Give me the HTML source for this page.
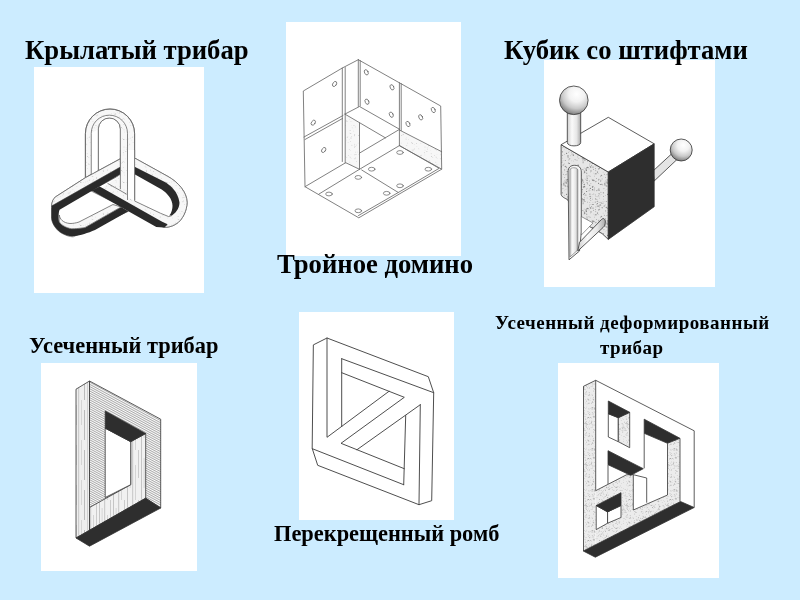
<!DOCTYPE html>
<html><head><meta charset="utf-8">
<style>
html,body{margin:0;padding:0;}
body{width:800px;height:600px;background:#ccecff;position:relative;overflow:hidden;font-family:"Liberation Serif",serif;font-weight:bold;color:#000;}
.t{position:absolute;white-space:nowrap;line-height:1;will-change:transform;}
.box{position:absolute;background:#fff;}
svg{position:absolute;left:0;top:0;}
</style></head><body>
<div class="box" style="left:34px;top:67px;width:170px;height:226px"></div>
<div class="box" style="left:286px;top:22px;width:175px;height:234px"></div>
<div class="box" style="left:544px;top:60px;width:171px;height:227px"></div>
<div class="box" style="left:41px;top:363px;width:156px;height:208px"></div>
<div class="box" style="left:299px;top:312px;width:155px;height:208px"></div>
<div class="box" style="left:558px;top:363px;width:161px;height:215px"></div>

<svg width="800" height="600" viewBox="0 0 800 600">
<defs>
 <pattern id="st2" width="41" height="41" patternUnits="userSpaceOnUse"><rect width="41" height="41" fill="#e6e6e6"/><circle cx="18.5" cy="23.0" r="0.67" fill="#777"/><circle cx="18.5" cy="35.1" r="0.38" fill="#777"/><circle cx="25.8" cy="32.5" r="0.34" fill="#bcbcbc"/><circle cx="5.8" cy="22.1" r="0.66" fill="#8a8a8a"/><circle cx="24.4" cy="16.2" r="0.48" fill="#a5a5a5"/><circle cx="25.5" cy="34.1" r="0.33" fill="#8a8a8a"/><circle cx="7.8" cy="9.9" r="0.31" fill="#777"/><circle cx="13.4" cy="24.2" r="0.38" fill="#a5a5a5"/><circle cx="26.3" cy="20.5" r="0.56" fill="#777"/><circle cx="26.8" cy="16.7" r="0.52" fill="#8a8a8a"/><circle cx="29.0" cy="12.9" r="0.39" fill="#bcbcbc"/><circle cx="1.2" cy="23.1" r="0.34" fill="#8a8a8a"/><circle cx="34.7" cy="15.8" r="0.68" fill="#8a8a8a"/><circle cx="8.8" cy="38.0" r="0.32" fill="#777"/><circle cx="40.2" cy="16.3" r="0.33" fill="#a5a5a5"/><circle cx="31.9" cy="11.1" r="0.33" fill="#bcbcbc"/><circle cx="0.6" cy="16.8" r="0.67" fill="#a5a5a5"/><circle cx="10.1" cy="4.1" r="0.32" fill="#777"/><circle cx="7.3" cy="22.9" r="0.48" fill="#a5a5a5"/><circle cx="40.4" cy="31.6" r="0.47" fill="#777"/><circle cx="4.8" cy="17.3" r="0.39" fill="#bcbcbc"/><circle cx="35.4" cy="40.0" r="0.54" fill="#8a8a8a"/><circle cx="8.6" cy="16.2" r="0.64" fill="#8a8a8a"/><circle cx="1.7" cy="6.0" r="0.48" fill="#8a8a8a"/><circle cx="31.7" cy="13.5" r="0.42" fill="#8a8a8a"/><circle cx="3.0" cy="8.6" r="0.55" fill="#8a8a8a"/><circle cx="24.7" cy="15.2" r="0.48" fill="#777"/><circle cx="34.1" cy="5.6" r="0.45" fill="#a5a5a5"/><circle cx="12.7" cy="9.4" r="0.54" fill="#a5a5a5"/><circle cx="6.5" cy="25.8" r="0.52" fill="#777"/><circle cx="36.2" cy="24.7" r="0.47" fill="#8a8a8a"/><circle cx="4.5" cy="21.0" r="0.40" fill="#777"/><circle cx="10.5" cy="33.8" r="0.54" fill="#bcbcbc"/><circle cx="21.3" cy="38.1" r="0.69" fill="#a5a5a5"/><circle cx="9.4" cy="22.9" r="0.64" fill="#8a8a8a"/><circle cx="11.5" cy="37.6" r="0.38" fill="#8a8a8a"/><circle cx="2.8" cy="16.9" r="0.40" fill="#8a8a8a"/><circle cx="7.2" cy="15.1" r="0.53" fill="#a5a5a5"/><circle cx="3.8" cy="5.7" r="0.48" fill="#bcbcbc"/><circle cx="26.9" cy="28.3" r="0.53" fill="#a5a5a5"/><circle cx="24.2" cy="37.9" r="0.49" fill="#bcbcbc"/><circle cx="28.7" cy="39.5" r="0.31" fill="#8a8a8a"/><circle cx="19.8" cy="30.0" r="0.43" fill="#8a8a8a"/><circle cx="3.1" cy="22.4" r="0.59" fill="#a5a5a5"/><circle cx="32.5" cy="37.5" r="0.44" fill="#777"/><circle cx="36.9" cy="35.7" r="0.47" fill="#8a8a8a"/><circle cx="35.4" cy="23.5" r="0.55" fill="#777"/><circle cx="15.5" cy="0.5" r="0.33" fill="#8a8a8a"/><circle cx="26.2" cy="40.7" r="0.65" fill="#bcbcbc"/><circle cx="15.9" cy="30.1" r="0.53" fill="#777"/><circle cx="19.0" cy="22.2" r="0.51" fill="#8a8a8a"/><circle cx="12.7" cy="3.6" r="0.31" fill="#8a8a8a"/><circle cx="20.4" cy="25.2" r="0.67" fill="#bcbcbc"/><circle cx="36.8" cy="15.1" r="0.36" fill="#a5a5a5"/><circle cx="21.3" cy="30.9" r="0.44" fill="#777"/><circle cx="20.4" cy="9.9" r="0.46" fill="#bcbcbc"/><circle cx="8.1" cy="17.7" r="0.62" fill="#a5a5a5"/><circle cx="36.1" cy="15.8" r="0.53" fill="#bcbcbc"/><circle cx="8.6" cy="5.5" r="0.44" fill="#8a8a8a"/><circle cx="29.2" cy="39.0" r="0.41" fill="#a5a5a5"/><circle cx="4.6" cy="19.3" r="0.67" fill="#777"/><circle cx="15.7" cy="21.3" r="0.57" fill="#777"/><circle cx="13.1" cy="34.0" r="0.41" fill="#8a8a8a"/><circle cx="27.8" cy="11.5" r="0.44" fill="#8a8a8a"/><circle cx="26.3" cy="16.6" r="0.38" fill="#bcbcbc"/><circle cx="9.7" cy="5.8" r="0.32" fill="#8a8a8a"/><circle cx="18.3" cy="25.8" r="0.56" fill="#bcbcbc"/><circle cx="39.3" cy="28.1" r="0.38" fill="#777"/><circle cx="10.5" cy="29.3" r="0.60" fill="#8a8a8a"/><circle cx="7.3" cy="11.2" r="0.44" fill="#a5a5a5"/><circle cx="16.1" cy="32.5" r="0.66" fill="#8a8a8a"/><circle cx="16.8" cy="36.6" r="0.46" fill="#777"/><circle cx="18.6" cy="25.6" r="0.66" fill="#777"/><circle cx="22.6" cy="26.8" r="0.50" fill="#bcbcbc"/><circle cx="19.0" cy="26.7" r="0.38" fill="#8a8a8a"/><circle cx="8.7" cy="36.9" r="0.69" fill="#bcbcbc"/><circle cx="22.0" cy="32.4" r="0.43" fill="#8a8a8a"/><circle cx="14.3" cy="3.4" r="0.48" fill="#777"/><circle cx="31.5" cy="20.0" r="0.31" fill="#8a8a8a"/><circle cx="17.6" cy="1.4" r="0.51" fill="#a5a5a5"/><circle cx="19.3" cy="41.0" r="0.66" fill="#777"/><circle cx="38.8" cy="20.2" r="0.68" fill="#8a8a8a"/><circle cx="31.1" cy="18.0" r="0.52" fill="#a5a5a5"/><circle cx="21.4" cy="34.6" r="0.52" fill="#bcbcbc"/><circle cx="27.5" cy="39.1" r="0.65" fill="#a5a5a5"/><circle cx="12.5" cy="5.8" r="0.52" fill="#bcbcbc"/><circle cx="23.5" cy="8.2" r="0.51" fill="#8a8a8a"/><circle cx="24.8" cy="1.1" r="0.69" fill="#777"/><circle cx="22.3" cy="40.6" r="0.35" fill="#8a8a8a"/><circle cx="28.3" cy="2.7" r="0.52" fill="#777"/><circle cx="37.8" cy="32.8" r="0.46" fill="#a5a5a5"/><circle cx="19.4" cy="5.2" r="0.47" fill="#777"/><circle cx="21.5" cy="4.5" r="0.47" fill="#8a8a8a"/><circle cx="37.9" cy="5.3" r="0.61" fill="#8a8a8a"/><circle cx="1.5" cy="6.4" r="0.30" fill="#bcbcbc"/><circle cx="13.2" cy="14.6" r="0.55" fill="#8a8a8a"/><circle cx="20.5" cy="23.9" r="0.64" fill="#bcbcbc"/><circle cx="29.4" cy="28.8" r="0.65" fill="#8a8a8a"/><circle cx="15.4" cy="16.9" r="0.51" fill="#a5a5a5"/><circle cx="22.1" cy="35.4" r="0.51" fill="#a5a5a5"/><circle cx="21.7" cy="34.9" r="0.54" fill="#a5a5a5"/><circle cx="9.5" cy="30.4" r="0.62" fill="#a5a5a5"/><circle cx="13.0" cy="12.9" r="0.67" fill="#a5a5a5"/><circle cx="31.9" cy="8.0" r="0.34" fill="#a5a5a5"/><circle cx="5.4" cy="3.6" r="0.46" fill="#777"/><circle cx="34.1" cy="17.3" r="0.62" fill="#a5a5a5"/><circle cx="8.2" cy="25.7" r="0.62" fill="#8a8a8a"/><circle cx="8.2" cy="28.0" r="0.66" fill="#bcbcbc"/><circle cx="4.7" cy="20.7" r="0.60" fill="#a5a5a5"/><circle cx="32.9" cy="19.8" r="0.31" fill="#777"/><circle cx="6.0" cy="7.6" r="0.38" fill="#a5a5a5"/><circle cx="40.6" cy="38.0" r="0.34" fill="#8a8a8a"/><circle cx="5.5" cy="27.9" r="0.33" fill="#8a8a8a"/><circle cx="13.4" cy="19.1" r="0.51" fill="#777"/><circle cx="8.6" cy="15.3" r="0.55" fill="#8a8a8a"/><circle cx="34.6" cy="7.4" r="0.48" fill="#bcbcbc"/><circle cx="16.6" cy="8.0" r="0.37" fill="#8a8a8a"/><circle cx="13.3" cy="3.5" r="0.64" fill="#777"/><circle cx="23.4" cy="7.8" r="0.53" fill="#bcbcbc"/><circle cx="33.0" cy="10.6" r="0.66" fill="#a5a5a5"/><circle cx="33.4" cy="16.6" r="0.66" fill="#bcbcbc"/><circle cx="31.5" cy="31.4" r="0.46" fill="#a5a5a5"/><circle cx="2.9" cy="14.0" r="0.49" fill="#8a8a8a"/><circle cx="36.4" cy="40.6" r="0.66" fill="#8a8a8a"/><circle cx="9.5" cy="38.7" r="0.57" fill="#bcbcbc"/><circle cx="8.9" cy="16.7" r="0.37" fill="#8a8a8a"/><circle cx="16.0" cy="41.0" r="0.56" fill="#8a8a8a"/><circle cx="31.2" cy="40.2" r="0.31" fill="#8a8a8a"/><circle cx="30.3" cy="10.5" r="0.46" fill="#8a8a8a"/><circle cx="31.2" cy="26.6" r="0.30" fill="#bcbcbc"/><circle cx="10.3" cy="37.1" r="0.52" fill="#777"/><circle cx="39.7" cy="23.3" r="0.70" fill="#777"/><circle cx="33.2" cy="3.1" r="0.54" fill="#8a8a8a"/><circle cx="15.8" cy="38.5" r="0.45" fill="#a5a5a5"/><circle cx="35.1" cy="22.2" r="0.54" fill="#777"/><circle cx="38.8" cy="17.2" r="0.51" fill="#bcbcbc"/><circle cx="15.0" cy="11.7" r="0.56" fill="#bcbcbc"/><circle cx="27.2" cy="30.7" r="0.31" fill="#a5a5a5"/><circle cx="24.0" cy="26.0" r="0.46" fill="#777"/><circle cx="2.2" cy="12.9" r="0.46" fill="#bcbcbc"/><circle cx="3.0" cy="37.1" r="0.47" fill="#777"/><circle cx="10.3" cy="31.0" r="0.32" fill="#8a8a8a"/><circle cx="38.4" cy="29.6" r="0.49" fill="#a5a5a5"/><circle cx="24.7" cy="4.7" r="0.55" fill="#777"/><circle cx="4.8" cy="35.3" r="0.44" fill="#a5a5a5"/><circle cx="5.1" cy="18.2" r="0.57" fill="#777"/><circle cx="24.6" cy="26.2" r="0.57" fill="#bcbcbc"/><circle cx="31.9" cy="21.8" r="0.70" fill="#bcbcbc"/><circle cx="30.1" cy="9.8" r="0.35" fill="#bcbcbc"/><circle cx="32.2" cy="25.6" r="0.44" fill="#bcbcbc"/><circle cx="25.0" cy="29.7" r="0.58" fill="#a5a5a5"/><circle cx="26.0" cy="30.9" r="0.38" fill="#a5a5a5"/><circle cx="20.6" cy="26.8" r="0.38" fill="#8a8a8a"/><circle cx="25.8" cy="0.4" r="0.40" fill="#8a8a8a"/><circle cx="25.6" cy="4.2" r="0.52" fill="#8a8a8a"/><circle cx="31.0" cy="37.4" r="0.36" fill="#a5a5a5"/><circle cx="25.9" cy="15.3" r="0.49" fill="#a5a5a5"/><circle cx="13.9" cy="20.3" r="0.35" fill="#8a8a8a"/><circle cx="32.9" cy="18.3" r="0.63" fill="#a5a5a5"/><circle cx="18.2" cy="30.6" r="0.46" fill="#a5a5a5"/><circle cx="15.1" cy="26.8" r="0.70" fill="#bcbcbc"/><circle cx="11.9" cy="31.1" r="0.63" fill="#a5a5a5"/><circle cx="17.5" cy="15.1" r="0.34" fill="#bcbcbc"/><circle cx="3.2" cy="3.4" r="0.53" fill="#777"/><circle cx="33.4" cy="19.0" r="0.63" fill="#8a8a8a"/><circle cx="3.1" cy="8.7" r="0.56" fill="#8a8a8a"/><circle cx="28.5" cy="20.3" r="0.61" fill="#bcbcbc"/><circle cx="11.6" cy="5.9" r="0.44" fill="#bcbcbc"/><circle cx="15.0" cy="4.8" r="0.58" fill="#bcbcbc"/><circle cx="18.0" cy="32.9" r="0.42" fill="#bcbcbc"/><circle cx="9.1" cy="39.7" r="0.59" fill="#a5a5a5"/><circle cx="3.5" cy="34.0" r="0.31" fill="#777"/><circle cx="24.0" cy="32.6" r="0.60" fill="#bcbcbc"/><circle cx="32.7" cy="22.2" r="0.63" fill="#a5a5a5"/><circle cx="7.2" cy="31.1" r="0.65" fill="#bcbcbc"/><circle cx="33.3" cy="9.1" r="0.32" fill="#a5a5a5"/><circle cx="23.3" cy="39.6" r="0.56" fill="#777"/><circle cx="2.6" cy="22.4" r="0.62" fill="#8a8a8a"/><circle cx="13.7" cy="11.2" r="0.34" fill="#bcbcbc"/><circle cx="3.5" cy="26.0" r="0.36" fill="#777"/><circle cx="10.1" cy="9.0" r="0.61" fill="#bcbcbc"/><circle cx="31.4" cy="16.2" r="0.44" fill="#bcbcbc"/><circle cx="27.6" cy="20.2" r="0.51" fill="#8a8a8a"/><circle cx="29.0" cy="37.5" r="0.46" fill="#bcbcbc"/><circle cx="35.0" cy="33.0" r="0.63" fill="#777"/><circle cx="39.3" cy="26.3" r="0.51" fill="#8a8a8a"/><circle cx="32.9" cy="17.3" r="0.47" fill="#a5a5a5"/><circle cx="10.1" cy="6.7" r="0.55" fill="#a5a5a5"/><circle cx="13.2" cy="16.0" r="0.51" fill="#bcbcbc"/><circle cx="39.8" cy="2.4" r="0.42" fill="#8a8a8a"/><circle cx="12.4" cy="6.4" r="0.67" fill="#8a8a8a"/><circle cx="30.9" cy="0.7" r="0.49" fill="#8a8a8a"/><circle cx="12.8" cy="8.1" r="0.44" fill="#a5a5a5"/><circle cx="24.6" cy="19.3" r="0.50" fill="#777"/><circle cx="7.6" cy="11.5" r="0.37" fill="#bcbcbc"/><circle cx="25.7" cy="38.6" r="0.52" fill="#bcbcbc"/><circle cx="19.9" cy="16.5" r="0.68" fill="#8a8a8a"/><circle cx="19.8" cy="9.1" r="0.32" fill="#a5a5a5"/><circle cx="32.9" cy="15.8" r="0.51" fill="#bcbcbc"/><circle cx="32.3" cy="2.4" r="0.67" fill="#8a8a8a"/><circle cx="35.8" cy="37.1" r="0.48" fill="#a5a5a5"/><circle cx="29.2" cy="24.8" r="0.36" fill="#a5a5a5"/><circle cx="31.6" cy="5.9" r="0.66" fill="#a5a5a5"/><circle cx="26.1" cy="40.7" r="0.41" fill="#8a8a8a"/><circle cx="6.2" cy="31.6" r="0.30" fill="#a5a5a5"/><circle cx="33.7" cy="3.4" r="0.41" fill="#8a8a8a"/><circle cx="36.5" cy="28.4" r="0.33" fill="#bcbcbc"/><circle cx="0.8" cy="7.7" r="0.38" fill="#8a8a8a"/><circle cx="32.0" cy="18.0" r="0.31" fill="#777"/><circle cx="21.6" cy="6.5" r="0.63" fill="#bcbcbc"/><circle cx="13.0" cy="16.6" r="0.52" fill="#777"/><circle cx="27.4" cy="2.7" r="0.33" fill="#a5a5a5"/><circle cx="4.3" cy="16.2" r="0.48" fill="#8a8a8a"/><circle cx="26.8" cy="0.5" r="0.45" fill="#777"/><circle cx="9.7" cy="23.1" r="0.48" fill="#8a8a8a"/><circle cx="35.1" cy="34.6" r="0.59" fill="#a5a5a5"/><circle cx="11.9" cy="15.4" r="0.52" fill="#bcbcbc"/><circle cx="39.1" cy="31.0" r="0.52" fill="#8a8a8a"/><circle cx="10.5" cy="8.2" r="0.59" fill="#bcbcbc"/><circle cx="12.7" cy="11.2" r="0.49" fill="#bcbcbc"/><circle cx="18.3" cy="15.7" r="0.34" fill="#8a8a8a"/><circle cx="5.4" cy="25.8" r="0.37" fill="#a5a5a5"/><circle cx="16.5" cy="34.3" r="0.54" fill="#8a8a8a"/><circle cx="4.1" cy="1.3" r="0.69" fill="#777"/><circle cx="16.7" cy="3.0" r="0.67" fill="#777"/><circle cx="38.0" cy="5.7" r="0.38" fill="#a5a5a5"/><circle cx="33.7" cy="15.8" r="0.43" fill="#777"/><circle cx="25.5" cy="29.8" r="0.55" fill="#bcbcbc"/><circle cx="40.3" cy="32.4" r="0.56" fill="#8a8a8a"/><circle cx="10.7" cy="7.7" r="0.42" fill="#777"/><circle cx="4.4" cy="15.5" r="0.50" fill="#bcbcbc"/><circle cx="33.8" cy="25.1" r="0.36" fill="#bcbcbc"/><circle cx="22.5" cy="14.5" r="0.50" fill="#a5a5a5"/><circle cx="23.5" cy="8.1" r="0.67" fill="#a5a5a5"/><circle cx="23.3" cy="1.1" r="0.56" fill="#8a8a8a"/><circle cx="5.6" cy="19.6" r="0.47" fill="#bcbcbc"/><circle cx="13.5" cy="38.1" r="0.44" fill="#777"/><circle cx="36.2" cy="18.5" r="0.59" fill="#a5a5a5"/><circle cx="37.1" cy="22.3" r="0.52" fill="#bcbcbc"/><circle cx="6.9" cy="30.6" r="0.66" fill="#bcbcbc"/><circle cx="24.7" cy="5.0" r="0.63" fill="#bcbcbc"/><circle cx="28.1" cy="14.9" r="0.60" fill="#bcbcbc"/><circle cx="34.1" cy="7.6" r="0.52" fill="#8a8a8a"/><circle cx="18.6" cy="16.5" r="0.61" fill="#a5a5a5"/><circle cx="12.6" cy="27.5" r="0.60" fill="#777"/><circle cx="25.2" cy="26.3" r="0.61" fill="#a5a5a5"/><circle cx="8.2" cy="19.2" r="0.36" fill="#777"/><circle cx="4.8" cy="16.6" r="0.43" fill="#a5a5a5"/><circle cx="10.8" cy="23.3" r="0.43" fill="#8a8a8a"/><circle cx="29.6" cy="32.3" r="0.46" fill="#777"/><circle cx="24.6" cy="19.3" r="0.46" fill="#777"/><circle cx="30.8" cy="19.9" r="0.70" fill="#777"/><circle cx="33.8" cy="4.8" r="0.35" fill="#bcbcbc"/><circle cx="21.5" cy="17.7" r="0.66" fill="#bcbcbc"/><circle cx="37.2" cy="12.1" r="0.55" fill="#777"/><circle cx="30.0" cy="24.5" r="0.60" fill="#bcbcbc"/><circle cx="36.2" cy="36.0" r="0.40" fill="#777"/><circle cx="9.9" cy="35.8" r="0.69" fill="#777"/><circle cx="28.5" cy="21.6" r="0.40" fill="#bcbcbc"/><circle cx="26.9" cy="38.5" r="0.65" fill="#bcbcbc"/><circle cx="35.5" cy="17.3" r="0.62" fill="#a5a5a5"/><circle cx="26.6" cy="17.3" r="0.35" fill="#8a8a8a"/><circle cx="4.0" cy="32.5" r="0.35" fill="#777"/><circle cx="0.0" cy="10.0" r="0.42" fill="#bcbcbc"/><circle cx="7.1" cy="18.1" r="0.48" fill="#777"/><circle cx="5.8" cy="28.4" r="0.39" fill="#bcbcbc"/><circle cx="1.3" cy="36.8" r="0.42" fill="#777"/><circle cx="5.9" cy="31.8" r="0.61" fill="#a5a5a5"/><circle cx="8.3" cy="35.2" r="0.58" fill="#8a8a8a"/><circle cx="8.0" cy="34.4" r="0.44" fill="#777"/><circle cx="0.7" cy="26.1" r="0.58" fill="#a5a5a5"/><circle cx="21.9" cy="9.7" r="0.68" fill="#8a8a8a"/><circle cx="26.7" cy="12.5" r="0.63" fill="#bcbcbc"/><circle cx="35.7" cy="29.2" r="0.35" fill="#777"/><circle cx="17.0" cy="6.9" r="0.64" fill="#8a8a8a"/><circle cx="29.1" cy="8.1" r="0.37" fill="#a5a5a5"/><circle cx="20.6" cy="12.1" r="0.41" fill="#8a8a8a"/><circle cx="24.2" cy="9.4" r="0.42" fill="#a5a5a5"/><circle cx="27.3" cy="11.4" r="0.56" fill="#8a8a8a"/><circle cx="19.0" cy="3.1" r="0.67" fill="#8a8a8a"/><circle cx="21.8" cy="1.9" r="0.54" fill="#bcbcbc"/><circle cx="22.0" cy="17.4" r="0.53" fill="#a5a5a5"/><circle cx="11.7" cy="31.0" r="0.40" fill="#bcbcbc"/><circle cx="30.1" cy="1.2" r="0.62" fill="#a5a5a5"/><circle cx="40.5" cy="1.4" r="0.48" fill="#777"/><circle cx="0.1" cy="36.6" r="0.32" fill="#8a8a8a"/><circle cx="22.8" cy="26.4" r="0.44" fill="#777"/><circle cx="32.1" cy="21.2" r="0.50" fill="#a5a5a5"/><circle cx="24.3" cy="31.6" r="0.34" fill="#777"/><circle cx="9.6" cy="18.1" r="0.61" fill="#a5a5a5"/><circle cx="10.6" cy="22.3" r="0.64" fill="#777"/><circle cx="10.7" cy="8.3" r="0.69" fill="#8a8a8a"/><circle cx="23.5" cy="35.8" r="0.37" fill="#a5a5a5"/><circle cx="24.9" cy="25.0" r="0.62" fill="#777"/><circle cx="29.6" cy="35.1" r="0.31" fill="#8a8a8a"/><circle cx="37.2" cy="23.3" r="0.52" fill="#a5a5a5"/><circle cx="25.6" cy="2.2" r="0.47" fill="#bcbcbc"/><circle cx="33.6" cy="30.3" r="0.61" fill="#777"/><circle cx="3.6" cy="33.6" r="0.37" fill="#bcbcbc"/><circle cx="10.2" cy="20.4" r="0.56" fill="#777"/><circle cx="2.5" cy="16.8" r="0.45" fill="#a5a5a5"/><circle cx="28.9" cy="39.2" r="0.35" fill="#a5a5a5"/><circle cx="5.9" cy="18.7" r="0.60" fill="#8a8a8a"/><circle cx="0.1" cy="16.8" r="0.51" fill="#8a8a8a"/><circle cx="16.1" cy="12.2" r="0.47" fill="#8a8a8a"/><circle cx="39.8" cy="27.9" r="0.59" fill="#a5a5a5"/><circle cx="12.1" cy="4.9" r="0.64" fill="#777"/><circle cx="18.9" cy="38.2" r="0.45" fill="#bcbcbc"/><circle cx="38.8" cy="37.8" r="0.39" fill="#a5a5a5"/><circle cx="16.5" cy="26.6" r="0.32" fill="#bcbcbc"/><circle cx="23.3" cy="37.4" r="0.65" fill="#a5a5a5"/><circle cx="19.0" cy="16.1" r="0.64" fill="#777"/><circle cx="15.5" cy="2.0" r="0.47" fill="#a5a5a5"/><circle cx="7.5" cy="22.5" r="0.37" fill="#a5a5a5"/><circle cx="16.4" cy="24.3" r="0.60" fill="#777"/><circle cx="18.3" cy="40.7" r="0.57" fill="#777"/><circle cx="8.4" cy="15.7" r="0.33" fill="#bcbcbc"/><circle cx="14.9" cy="11.3" r="0.31" fill="#a5a5a5"/><circle cx="30.4" cy="21.0" r="0.53" fill="#a5a5a5"/><circle cx="11.0" cy="14.8" r="0.36" fill="#bcbcbc"/><circle cx="5.6" cy="9.9" r="0.64" fill="#8a8a8a"/><circle cx="0.8" cy="13.2" r="0.45" fill="#8a8a8a"/><circle cx="35.0" cy="15.6" r="0.40" fill="#8a8a8a"/><circle cx="12.4" cy="24.9" r="0.50" fill="#a5a5a5"/><circle cx="6.2" cy="24.4" r="0.31" fill="#bcbcbc"/><circle cx="16.8" cy="19.6" r="0.58" fill="#bcbcbc"/><circle cx="12.9" cy="18.5" r="0.45" fill="#a5a5a5"/><circle cx="34.2" cy="21.9" r="0.48" fill="#a5a5a5"/><circle cx="15.8" cy="35.5" r="0.39" fill="#bcbcbc"/><circle cx="15.2" cy="25.1" r="0.36" fill="#8a8a8a"/></pattern><pattern id="st" width="43" height="43" patternUnits="userSpaceOnUse"><rect width="43" height="43" fill="#f7f7f7"/><circle cx="7.1" cy="29.7" r="0.41" fill="#d6d6d6"/><circle cx="36.3" cy="42.6" r="0.37" fill="#cacaca"/><circle cx="21.7" cy="10.2" r="0.25" fill="#b0b0b0"/><circle cx="40.1" cy="18.4" r="0.29" fill="#cacaca"/><circle cx="39.6" cy="29.8" r="0.36" fill="#d6d6d6"/><circle cx="26.5" cy="1.5" r="0.33" fill="#d6d6d6"/><circle cx="29.8" cy="27.9" r="0.48" fill="#bdbdbd"/><circle cx="6.7" cy="35.2" r="0.28" fill="#bdbdbd"/><circle cx="19.5" cy="23.7" r="0.34" fill="#d6d6d6"/><circle cx="6.5" cy="28.6" r="0.37" fill="#cacaca"/><circle cx="3.2" cy="8.5" r="0.42" fill="#bdbdbd"/><circle cx="5.3" cy="20.5" r="0.46" fill="#cacaca"/><circle cx="14.7" cy="6.3" r="0.38" fill="#b0b0b0"/><circle cx="15.7" cy="19.4" r="0.35" fill="#d6d6d6"/><circle cx="16.6" cy="1.2" r="0.27" fill="#d6d6d6"/><circle cx="0.1" cy="3.0" r="0.40" fill="#cacaca"/><circle cx="24.6" cy="13.7" r="0.49" fill="#bdbdbd"/><circle cx="7.8" cy="7.3" r="0.34" fill="#b0b0b0"/><circle cx="14.9" cy="25.7" r="0.33" fill="#bdbdbd"/><circle cx="7.3" cy="39.7" r="0.29" fill="#d6d6d6"/><circle cx="16.1" cy="29.4" r="0.42" fill="#cacaca"/><circle cx="17.5" cy="42.5" r="0.49" fill="#bdbdbd"/><circle cx="38.0" cy="21.1" r="0.34" fill="#cacaca"/><circle cx="40.3" cy="10.6" r="0.39" fill="#d6d6d6"/><circle cx="34.6" cy="33.3" r="0.37" fill="#b0b0b0"/><circle cx="2.2" cy="11.1" r="0.32" fill="#d6d6d6"/><circle cx="10.7" cy="17.0" r="0.47" fill="#cacaca"/><circle cx="42.3" cy="32.1" r="0.37" fill="#b0b0b0"/><circle cx="6.0" cy="28.0" r="0.48" fill="#d6d6d6"/><circle cx="1.2" cy="9.1" r="0.46" fill="#cacaca"/><circle cx="37.9" cy="25.9" r="0.36" fill="#d6d6d6"/><circle cx="13.2" cy="23.0" r="0.32" fill="#bdbdbd"/><circle cx="16.4" cy="5.4" r="0.43" fill="#b0b0b0"/><circle cx="25.5" cy="27.7" r="0.46" fill="#d6d6d6"/><circle cx="11.1" cy="17.4" r="0.49" fill="#cacaca"/><circle cx="5.7" cy="4.1" r="0.27" fill="#bdbdbd"/><circle cx="27.6" cy="33.8" r="0.27" fill="#bdbdbd"/><circle cx="28.2" cy="5.4" r="0.38" fill="#b0b0b0"/><circle cx="17.0" cy="38.2" r="0.41" fill="#cacaca"/><circle cx="7.9" cy="16.2" r="0.43" fill="#bdbdbd"/><circle cx="26.0" cy="21.7" r="0.44" fill="#bdbdbd"/><circle cx="34.0" cy="0.3" r="0.37" fill="#bdbdbd"/><circle cx="17.1" cy="24.4" r="0.46" fill="#cacaca"/><circle cx="10.9" cy="30.0" r="0.33" fill="#bdbdbd"/><circle cx="10.5" cy="6.7" r="0.43" fill="#b0b0b0"/><circle cx="35.2" cy="34.5" r="0.37" fill="#bdbdbd"/><circle cx="23.5" cy="2.6" r="0.40" fill="#b0b0b0"/><circle cx="41.6" cy="13.3" r="0.42" fill="#cacaca"/><circle cx="2.7" cy="35.0" r="0.49" fill="#b0b0b0"/><circle cx="2.8" cy="28.3" r="0.36" fill="#bdbdbd"/><circle cx="28.0" cy="26.9" r="0.45" fill="#d6d6d6"/><circle cx="21.7" cy="40.7" r="0.42" fill="#d6d6d6"/><circle cx="20.2" cy="22.1" r="0.47" fill="#bdbdbd"/><circle cx="9.7" cy="2.1" r="0.36" fill="#cacaca"/><circle cx="11.9" cy="25.3" r="0.35" fill="#d6d6d6"/><circle cx="19.6" cy="10.2" r="0.35" fill="#d6d6d6"/><circle cx="9.8" cy="39.3" r="0.41" fill="#bdbdbd"/><circle cx="20.6" cy="21.2" r="0.43" fill="#cacaca"/><circle cx="33.5" cy="27.0" r="0.44" fill="#b0b0b0"/><circle cx="10.5" cy="39.4" r="0.35" fill="#d6d6d6"/><circle cx="35.5" cy="41.4" r="0.50" fill="#bdbdbd"/><circle cx="7.0" cy="8.7" r="0.47" fill="#cacaca"/><circle cx="3.9" cy="7.5" r="0.38" fill="#d6d6d6"/><circle cx="31.9" cy="19.9" r="0.28" fill="#cacaca"/><circle cx="30.3" cy="8.9" r="0.33" fill="#cacaca"/><circle cx="11.2" cy="40.9" r="0.33" fill="#b0b0b0"/><circle cx="40.6" cy="41.6" r="0.47" fill="#cacaca"/><circle cx="10.3" cy="29.6" r="0.43" fill="#cacaca"/><circle cx="40.5" cy="20.1" r="0.36" fill="#b0b0b0"/><circle cx="28.8" cy="28.7" r="0.41" fill="#bdbdbd"/><circle cx="8.1" cy="41.3" r="0.26" fill="#b0b0b0"/><circle cx="0.8" cy="21.6" r="0.26" fill="#d6d6d6"/><circle cx="30.1" cy="10.3" r="0.25" fill="#cacaca"/><circle cx="4.1" cy="13.3" r="0.36" fill="#bdbdbd"/><circle cx="15.9" cy="5.8" r="0.45" fill="#d6d6d6"/><circle cx="22.8" cy="2.1" r="0.30" fill="#d6d6d6"/><circle cx="37.9" cy="10.5" r="0.39" fill="#d6d6d6"/><circle cx="38.0" cy="0.8" r="0.40" fill="#bdbdbd"/><circle cx="18.7" cy="35.8" r="0.50" fill="#cacaca"/><circle cx="6.5" cy="21.4" r="0.38" fill="#d6d6d6"/><circle cx="20.3" cy="34.4" r="0.33" fill="#b0b0b0"/><circle cx="6.6" cy="12.4" r="0.41" fill="#bdbdbd"/><circle cx="38.3" cy="3.1" r="0.27" fill="#bdbdbd"/><circle cx="29.2" cy="8.2" r="0.32" fill="#bdbdbd"/><circle cx="7.0" cy="25.2" r="0.32" fill="#d6d6d6"/><circle cx="6.8" cy="4.5" r="0.48" fill="#b0b0b0"/><circle cx="17.6" cy="29.7" r="0.43" fill="#d6d6d6"/><circle cx="3.4" cy="35.6" r="0.30" fill="#bdbdbd"/><circle cx="31.3" cy="26.1" r="0.41" fill="#cacaca"/><circle cx="0.9" cy="15.8" r="0.37" fill="#d6d6d6"/><circle cx="34.7" cy="39.0" r="0.42" fill="#cacaca"/><circle cx="29.3" cy="27.9" r="0.40" fill="#bdbdbd"/><circle cx="41.7" cy="16.8" r="0.49" fill="#b0b0b0"/><circle cx="0.5" cy="15.1" r="0.40" fill="#bdbdbd"/><circle cx="32.5" cy="27.8" r="0.29" fill="#d6d6d6"/><circle cx="8.9" cy="42.9" r="0.39" fill="#d6d6d6"/><circle cx="31.8" cy="38.0" r="0.34" fill="#bdbdbd"/><circle cx="10.3" cy="25.8" r="0.34" fill="#b0b0b0"/><circle cx="24.6" cy="42.7" r="0.48" fill="#bdbdbd"/><circle cx="42.3" cy="31.8" r="0.44" fill="#cacaca"/><circle cx="39.9" cy="22.5" r="0.47" fill="#b0b0b0"/><circle cx="5.3" cy="10.3" r="0.36" fill="#d6d6d6"/><circle cx="33.1" cy="32.3" r="0.41" fill="#b0b0b0"/><circle cx="7.9" cy="35.6" r="0.31" fill="#d6d6d6"/><circle cx="11.4" cy="23.1" r="0.36" fill="#bdbdbd"/><circle cx="33.9" cy="14.5" r="0.36" fill="#b0b0b0"/><circle cx="31.7" cy="31.4" r="0.50" fill="#d6d6d6"/><circle cx="6.1" cy="1.4" r="0.44" fill="#b0b0b0"/><circle cx="24.8" cy="42.9" r="0.30" fill="#cacaca"/><circle cx="37.4" cy="23.8" r="0.44" fill="#bdbdbd"/><circle cx="1.2" cy="39.4" r="0.28" fill="#b0b0b0"/><circle cx="19.8" cy="16.7" r="0.41" fill="#bdbdbd"/><circle cx="37.2" cy="32.3" r="0.34" fill="#b0b0b0"/><circle cx="31.6" cy="19.7" r="0.28" fill="#cacaca"/><circle cx="25.6" cy="14.3" r="0.46" fill="#b0b0b0"/><circle cx="10.7" cy="5.6" r="0.44" fill="#b0b0b0"/><circle cx="4.5" cy="26.5" r="0.41" fill="#cacaca"/><circle cx="5.8" cy="33.2" r="0.37" fill="#bdbdbd"/><circle cx="29.5" cy="14.4" r="0.41" fill="#b0b0b0"/><circle cx="0.4" cy="36.2" r="0.32" fill="#b0b0b0"/><circle cx="29.9" cy="17.8" r="0.28" fill="#bdbdbd"/><circle cx="42.8" cy="10.0" r="0.43" fill="#d6d6d6"/><circle cx="21.5" cy="41.4" r="0.34" fill="#bdbdbd"/><circle cx="27.3" cy="15.7" r="0.34" fill="#d6d6d6"/><circle cx="27.3" cy="19.6" r="0.38" fill="#cacaca"/><circle cx="18.9" cy="10.0" r="0.46" fill="#d6d6d6"/><circle cx="36.3" cy="33.3" r="0.48" fill="#bdbdbd"/><circle cx="14.8" cy="6.6" r="0.25" fill="#b0b0b0"/><circle cx="14.1" cy="14.1" r="0.30" fill="#bdbdbd"/><circle cx="19.6" cy="8.7" r="0.25" fill="#cacaca"/><circle cx="36.4" cy="9.5" r="0.28" fill="#bdbdbd"/><circle cx="27.0" cy="5.3" r="0.28" fill="#cacaca"/><circle cx="23.2" cy="3.7" r="0.31" fill="#bdbdbd"/><circle cx="10.5" cy="18.6" r="0.45" fill="#bdbdbd"/><circle cx="17.2" cy="41.3" r="0.45" fill="#b0b0b0"/><circle cx="38.0" cy="18.0" r="0.39" fill="#bdbdbd"/><circle cx="38.3" cy="33.2" r="0.39" fill="#cacaca"/><circle cx="1.6" cy="27.5" r="0.44" fill="#b0b0b0"/><circle cx="33.4" cy="30.9" r="0.38" fill="#cacaca"/><circle cx="12.4" cy="16.0" r="0.37" fill="#b0b0b0"/><circle cx="16.7" cy="34.5" r="0.26" fill="#b0b0b0"/><circle cx="25.1" cy="20.9" r="0.46" fill="#cacaca"/><circle cx="32.4" cy="6.4" r="0.33" fill="#bdbdbd"/><circle cx="11.6" cy="29.1" r="0.48" fill="#bdbdbd"/><circle cx="16.1" cy="37.2" r="0.36" fill="#bdbdbd"/><circle cx="27.0" cy="20.4" r="0.39" fill="#b0b0b0"/><circle cx="31.2" cy="2.0" r="0.41" fill="#b0b0b0"/><circle cx="18.7" cy="33.1" r="0.25" fill="#cacaca"/><circle cx="7.0" cy="9.4" r="0.29" fill="#b0b0b0"/><circle cx="0.6" cy="33.3" r="0.46" fill="#d6d6d6"/><circle cx="10.7" cy="15.2" r="0.46" fill="#cacaca"/><circle cx="12.0" cy="25.6" r="0.46" fill="#b0b0b0"/><circle cx="20.6" cy="14.1" r="0.47" fill="#cacaca"/><circle cx="12.4" cy="32.3" r="0.42" fill="#bdbdbd"/><circle cx="37.8" cy="10.6" r="0.50" fill="#b0b0b0"/><circle cx="24.1" cy="35.3" r="0.45" fill="#d6d6d6"/><circle cx="1.2" cy="24.8" r="0.48" fill="#cacaca"/><circle cx="34.2" cy="26.3" r="0.44" fill="#bdbdbd"/><circle cx="37.5" cy="38.4" r="0.46" fill="#cacaca"/><circle cx="21.5" cy="30.2" r="0.38" fill="#cacaca"/></pattern><pattern id="st3" width="41" height="41" patternUnits="userSpaceOnUse"><rect width="41" height="41" fill="#ececec"/><circle cx="25.5" cy="30.4" r="0.45" fill="#8f8f8f"/><circle cx="34.5" cy="31.8" r="0.31" fill="#8f8f8f"/><circle cx="36.9" cy="4.6" r="0.37" fill="#a8a8a8"/><circle cx="15.6" cy="4.2" r="0.31" fill="#a8a8a8"/><circle cx="16.7" cy="7.5" r="0.47" fill="#999"/><circle cx="6.5" cy="32.7" r="0.28" fill="#999"/><circle cx="5.2" cy="0.1" r="0.47" fill="#a8a8a8"/><circle cx="31.7" cy="39.4" r="0.29" fill="#a8a8a8"/><circle cx="11.9" cy="39.4" r="0.38" fill="#a8a8a8"/><circle cx="7.4" cy="39.7" r="0.30" fill="#999"/><circle cx="12.3" cy="14.8" r="0.29" fill="#a8a8a8"/><circle cx="10.8" cy="13.6" r="0.45" fill="#8f8f8f"/><circle cx="24.4" cy="29.0" r="0.27" fill="#b8b8b8"/><circle cx="33.6" cy="19.7" r="0.33" fill="#999"/><circle cx="19.4" cy="7.2" r="0.31" fill="#8f8f8f"/><circle cx="38.9" cy="14.7" r="0.35" fill="#999"/><circle cx="15.0" cy="23.7" r="0.25" fill="#8f8f8f"/><circle cx="29.0" cy="25.6" r="0.49" fill="#8f8f8f"/><circle cx="31.0" cy="38.1" r="0.49" fill="#b8b8b8"/><circle cx="21.0" cy="36.6" r="0.31" fill="#999"/><circle cx="4.4" cy="30.7" r="0.45" fill="#b8b8b8"/><circle cx="1.5" cy="38.8" r="0.27" fill="#b8b8b8"/><circle cx="21.0" cy="14.9" r="0.29" fill="#b8b8b8"/><circle cx="37.9" cy="22.4" r="0.33" fill="#b8b8b8"/><circle cx="12.6" cy="32.7" r="0.41" fill="#b8b8b8"/><circle cx="40.9" cy="6.6" r="0.26" fill="#999"/><circle cx="1.3" cy="30.4" r="0.34" fill="#b8b8b8"/><circle cx="18.7" cy="17.3" r="0.26" fill="#8f8f8f"/><circle cx="32.9" cy="13.7" r="0.30" fill="#a8a8a8"/><circle cx="25.8" cy="32.3" r="0.28" fill="#999"/><circle cx="15.3" cy="2.4" r="0.36" fill="#a8a8a8"/><circle cx="18.6" cy="41.0" r="0.46" fill="#999"/><circle cx="39.4" cy="28.2" r="0.33" fill="#b8b8b8"/><circle cx="11.9" cy="16.6" r="0.29" fill="#999"/><circle cx="33.7" cy="21.8" r="0.29" fill="#999"/><circle cx="35.6" cy="7.4" r="0.37" fill="#b8b8b8"/><circle cx="2.6" cy="32.6" r="0.34" fill="#8f8f8f"/><circle cx="31.1" cy="14.9" r="0.43" fill="#b8b8b8"/><circle cx="34.2" cy="10.9" r="0.50" fill="#b8b8b8"/><circle cx="39.2" cy="13.9" r="0.29" fill="#8f8f8f"/><circle cx="19.4" cy="31.7" r="0.33" fill="#b8b8b8"/><circle cx="19.0" cy="33.5" r="0.41" fill="#b8b8b8"/><circle cx="14.3" cy="26.4" r="0.43" fill="#999"/><circle cx="14.4" cy="34.6" r="0.47" fill="#999"/><circle cx="40.0" cy="39.2" r="0.38" fill="#a8a8a8"/><circle cx="8.1" cy="14.8" r="0.46" fill="#b8b8b8"/><circle cx="28.3" cy="29.5" r="0.43" fill="#a8a8a8"/><circle cx="25.3" cy="38.4" r="0.38" fill="#999"/><circle cx="12.4" cy="22.7" r="0.47" fill="#b8b8b8"/><circle cx="29.5" cy="1.1" r="0.29" fill="#999"/><circle cx="25.6" cy="7.4" r="0.44" fill="#a8a8a8"/><circle cx="25.9" cy="1.7" r="0.37" fill="#a8a8a8"/><circle cx="6.8" cy="36.6" r="0.28" fill="#a8a8a8"/><circle cx="19.8" cy="22.5" r="0.35" fill="#b8b8b8"/><circle cx="15.6" cy="25.1" r="0.40" fill="#a8a8a8"/><circle cx="29.4" cy="15.3" r="0.34" fill="#b8b8b8"/><circle cx="35.1" cy="35.5" r="0.42" fill="#b8b8b8"/><circle cx="39.5" cy="22.5" r="0.33" fill="#b8b8b8"/><circle cx="22.4" cy="13.9" r="0.40" fill="#b8b8b8"/><circle cx="33.6" cy="17.2" r="0.45" fill="#b8b8b8"/><circle cx="19.2" cy="6.4" r="0.35" fill="#999"/><circle cx="39.2" cy="39.7" r="0.40" fill="#b8b8b8"/><circle cx="33.7" cy="27.1" r="0.35" fill="#b8b8b8"/><circle cx="23.2" cy="25.2" r="0.29" fill="#999"/><circle cx="17.6" cy="40.0" r="0.37" fill="#999"/><circle cx="39.9" cy="15.6" r="0.49" fill="#a8a8a8"/><circle cx="24.4" cy="10.7" r="0.50" fill="#999"/><circle cx="10.3" cy="0.8" r="0.49" fill="#b8b8b8"/><circle cx="20.2" cy="11.7" r="0.37" fill="#8f8f8f"/><circle cx="27.1" cy="39.4" r="0.31" fill="#8f8f8f"/><circle cx="32.0" cy="33.9" r="0.25" fill="#b8b8b8"/><circle cx="10.0" cy="19.4" r="0.26" fill="#999"/><circle cx="11.0" cy="6.3" r="0.50" fill="#b8b8b8"/><circle cx="20.2" cy="40.7" r="0.38" fill="#8f8f8f"/><circle cx="0.7" cy="5.2" r="0.32" fill="#b8b8b8"/><circle cx="25.2" cy="30.0" r="0.26" fill="#b8b8b8"/><circle cx="14.8" cy="30.5" r="0.40" fill="#8f8f8f"/><circle cx="0.1" cy="22.7" r="0.42" fill="#8f8f8f"/><circle cx="36.4" cy="22.4" r="0.25" fill="#999"/><circle cx="24.4" cy="28.2" r="0.49" fill="#999"/><circle cx="35.2" cy="34.5" r="0.37" fill="#a8a8a8"/><circle cx="36.9" cy="19.1" r="0.44" fill="#b8b8b8"/><circle cx="34.3" cy="28.5" r="0.36" fill="#b8b8b8"/><circle cx="26.6" cy="19.4" r="0.33" fill="#a8a8a8"/><circle cx="19.6" cy="22.5" r="0.37" fill="#b8b8b8"/><circle cx="22.1" cy="17.4" r="0.39" fill="#8f8f8f"/><circle cx="2.8" cy="9.4" r="0.45" fill="#8f8f8f"/><circle cx="27.2" cy="1.0" r="0.43" fill="#8f8f8f"/><circle cx="40.9" cy="28.8" r="0.26" fill="#8f8f8f"/><circle cx="9.0" cy="26.5" r="0.49" fill="#a8a8a8"/><circle cx="40.8" cy="28.9" r="0.36" fill="#a8a8a8"/><circle cx="25.0" cy="17.0" r="0.29" fill="#a8a8a8"/><circle cx="1.8" cy="4.4" r="0.34" fill="#8f8f8f"/><circle cx="11.5" cy="23.4" r="0.28" fill="#999"/><circle cx="36.0" cy="5.5" r="0.36" fill="#b8b8b8"/><circle cx="28.1" cy="20.1" r="0.34" fill="#b8b8b8"/><circle cx="37.5" cy="5.7" r="0.32" fill="#b8b8b8"/><circle cx="37.3" cy="22.8" r="0.41" fill="#b8b8b8"/><circle cx="2.6" cy="9.7" r="0.46" fill="#b8b8b8"/><circle cx="21.2" cy="5.5" r="0.31" fill="#b8b8b8"/><circle cx="18.6" cy="15.9" r="0.28" fill="#8f8f8f"/><circle cx="26.9" cy="3.5" r="0.42" fill="#8f8f8f"/><circle cx="35.4" cy="20.8" r="0.36" fill="#999"/><circle cx="36.0" cy="19.7" r="0.33" fill="#8f8f8f"/><circle cx="22.2" cy="15.8" r="0.46" fill="#999"/><circle cx="27.9" cy="9.1" r="0.28" fill="#999"/><circle cx="33.6" cy="5.7" r="0.41" fill="#b8b8b8"/><circle cx="34.3" cy="11.9" r="0.48" fill="#b8b8b8"/><circle cx="32.6" cy="15.5" r="0.43" fill="#b8b8b8"/><circle cx="26.6" cy="33.0" r="0.36" fill="#b8b8b8"/><circle cx="21.2" cy="24.3" r="0.39" fill="#a8a8a8"/><circle cx="16.2" cy="4.0" r="0.26" fill="#a8a8a8"/><circle cx="8.0" cy="20.1" r="0.48" fill="#b8b8b8"/><circle cx="0.0" cy="19.3" r="0.47" fill="#999"/><circle cx="13.3" cy="18.9" r="0.30" fill="#a8a8a8"/><circle cx="2.9" cy="35.6" r="0.47" fill="#999"/><circle cx="6.2" cy="10.4" r="0.32" fill="#a8a8a8"/><circle cx="30.8" cy="27.6" r="0.26" fill="#8f8f8f"/><circle cx="14.1" cy="30.8" r="0.33" fill="#8f8f8f"/><circle cx="28.2" cy="27.6" r="0.37" fill="#a8a8a8"/><circle cx="4.8" cy="27.4" r="0.32" fill="#a8a8a8"/><circle cx="29.9" cy="6.7" r="0.30" fill="#8f8f8f"/><circle cx="23.6" cy="26.9" r="0.40" fill="#b8b8b8"/><circle cx="27.9" cy="7.6" r="0.34" fill="#8f8f8f"/><circle cx="30.0" cy="29.4" r="0.29" fill="#a8a8a8"/><circle cx="7.2" cy="8.6" r="0.26" fill="#999"/><circle cx="29.8" cy="11.1" r="0.37" fill="#999"/><circle cx="31.9" cy="16.8" r="0.26" fill="#b8b8b8"/><circle cx="38.5" cy="29.4" r="0.31" fill="#999"/><circle cx="3.8" cy="19.3" r="0.42" fill="#8f8f8f"/><circle cx="20.4" cy="32.0" r="0.26" fill="#999"/><circle cx="18.3" cy="26.3" r="0.47" fill="#a8a8a8"/><circle cx="7.4" cy="20.9" r="0.35" fill="#a8a8a8"/><circle cx="3.5" cy="12.9" r="0.28" fill="#a8a8a8"/><circle cx="24.5" cy="35.1" r="0.30" fill="#8f8f8f"/><circle cx="18.1" cy="14.7" r="0.36" fill="#999"/><circle cx="21.4" cy="5.4" r="0.25" fill="#b8b8b8"/><circle cx="28.2" cy="36.6" r="0.50" fill="#8f8f8f"/><circle cx="5.7" cy="19.8" r="0.44" fill="#b8b8b8"/><circle cx="33.6" cy="12.8" r="0.28" fill="#8f8f8f"/><circle cx="19.3" cy="28.6" r="0.45" fill="#a8a8a8"/><circle cx="11.3" cy="20.2" r="0.31" fill="#a8a8a8"/><circle cx="32.6" cy="36.2" r="0.47" fill="#8f8f8f"/><circle cx="17.2" cy="12.9" r="0.44" fill="#8f8f8f"/><circle cx="36.7" cy="26.8" r="0.44" fill="#8f8f8f"/><circle cx="18.1" cy="33.5" r="0.41" fill="#8f8f8f"/><circle cx="29.8" cy="28.7" r="0.32" fill="#999"/><circle cx="23.0" cy="13.2" r="0.33" fill="#a8a8a8"/><circle cx="10.8" cy="27.7" r="0.32" fill="#8f8f8f"/><circle cx="22.2" cy="30.3" r="0.26" fill="#8f8f8f"/><circle cx="2.1" cy="5.3" r="0.34" fill="#b8b8b8"/><circle cx="38.9" cy="25.1" r="0.31" fill="#999"/><circle cx="5.1" cy="8.2" r="0.34" fill="#a8a8a8"/><circle cx="24.0" cy="33.9" r="0.43" fill="#8f8f8f"/><circle cx="11.0" cy="24.8" r="0.41" fill="#a8a8a8"/><circle cx="18.3" cy="38.5" r="0.45" fill="#8f8f8f"/><circle cx="13.7" cy="18.3" r="0.31" fill="#999"/><circle cx="7.0" cy="2.0" r="0.42" fill="#a8a8a8"/><circle cx="21.8" cy="39.8" r="0.40" fill="#8f8f8f"/><circle cx="5.2" cy="34.9" r="0.42" fill="#a8a8a8"/><circle cx="40.1" cy="1.3" r="0.39" fill="#999"/><circle cx="28.9" cy="14.5" r="0.37" fill="#a8a8a8"/><circle cx="11.4" cy="8.2" r="0.39" fill="#b8b8b8"/><circle cx="31.3" cy="32.2" r="0.34" fill="#a8a8a8"/><circle cx="33.4" cy="27.2" r="0.48" fill="#8f8f8f"/><circle cx="25.3" cy="16.4" r="0.29" fill="#a8a8a8"/><circle cx="20.1" cy="1.5" r="0.29" fill="#8f8f8f"/><circle cx="30.9" cy="11.5" r="0.48" fill="#b8b8b8"/><circle cx="19.6" cy="19.3" r="0.38" fill="#8f8f8f"/><circle cx="32.8" cy="15.4" r="0.25" fill="#a8a8a8"/><circle cx="33.3" cy="0.9" r="0.42" fill="#b8b8b8"/><circle cx="21.1" cy="20.5" r="0.39" fill="#999"/><circle cx="18.4" cy="32.3" r="0.39" fill="#8f8f8f"/><circle cx="22.0" cy="32.7" r="0.34" fill="#8f8f8f"/><circle cx="27.9" cy="21.4" r="0.32" fill="#8f8f8f"/><circle cx="1.1" cy="31.7" r="0.40" fill="#999"/><circle cx="12.6" cy="38.1" r="0.32" fill="#a8a8a8"/><circle cx="3.0" cy="30.9" r="0.42" fill="#b8b8b8"/><circle cx="36.8" cy="28.2" r="0.46" fill="#a8a8a8"/><circle cx="19.8" cy="3.8" r="0.28" fill="#b8b8b8"/><circle cx="40.0" cy="22.3" r="0.35" fill="#8f8f8f"/><circle cx="27.5" cy="15.5" r="0.44" fill="#a8a8a8"/><circle cx="37.3" cy="25.2" r="0.35" fill="#8f8f8f"/><circle cx="34.6" cy="36.5" r="0.42" fill="#b8b8b8"/><circle cx="10.2" cy="4.1" r="0.32" fill="#b8b8b8"/><circle cx="32.7" cy="3.2" r="0.49" fill="#8f8f8f"/><circle cx="25.9" cy="31.4" r="0.31" fill="#8f8f8f"/><circle cx="23.4" cy="25.7" r="0.41" fill="#999"/><circle cx="17.1" cy="17.4" r="0.38" fill="#a8a8a8"/><circle cx="12.4" cy="11.5" r="0.40" fill="#b8b8b8"/><circle cx="7.7" cy="1.2" r="0.28" fill="#a8a8a8"/><circle cx="17.8" cy="13.4" r="0.28" fill="#b8b8b8"/><circle cx="29.9" cy="2.5" r="0.37" fill="#8f8f8f"/><circle cx="13.1" cy="34.9" r="0.41" fill="#a8a8a8"/><circle cx="36.6" cy="25.2" r="0.45" fill="#8f8f8f"/><circle cx="0.1" cy="27.6" r="0.28" fill="#b8b8b8"/><circle cx="6.2" cy="25.2" r="0.28" fill="#999"/><circle cx="30.2" cy="33.5" r="0.45" fill="#8f8f8f"/><circle cx="15.0" cy="33.4" r="0.30" fill="#b8b8b8"/><circle cx="15.4" cy="18.8" r="0.42" fill="#8f8f8f"/><circle cx="10.1" cy="38.6" r="0.37" fill="#8f8f8f"/><circle cx="4.8" cy="24.5" r="0.34" fill="#8f8f8f"/><circle cx="20.3" cy="39.5" r="0.49" fill="#8f8f8f"/><circle cx="20.1" cy="38.4" r="0.43" fill="#8f8f8f"/><circle cx="4.8" cy="19.6" r="0.34" fill="#a8a8a8"/><circle cx="37.7" cy="15.7" r="0.32" fill="#999"/><circle cx="26.3" cy="31.4" r="0.27" fill="#8f8f8f"/><circle cx="12.1" cy="13.8" r="0.46" fill="#999"/><circle cx="2.1" cy="17.3" r="0.31" fill="#8f8f8f"/><circle cx="6.0" cy="39.7" r="0.39" fill="#999"/><circle cx="40.4" cy="22.2" r="0.35" fill="#a8a8a8"/><circle cx="3.8" cy="14.6" r="0.45" fill="#8f8f8f"/><circle cx="33.5" cy="5.8" r="0.45" fill="#8f8f8f"/><circle cx="10.3" cy="18.8" r="0.35" fill="#8f8f8f"/><circle cx="2.2" cy="9.0" r="0.49" fill="#999"/><circle cx="0.5" cy="21.3" r="0.49" fill="#999"/><circle cx="20.8" cy="2.2" r="0.35" fill="#999"/><circle cx="35.3" cy="38.5" r="0.42" fill="#8f8f8f"/><circle cx="8.8" cy="17.3" r="0.43" fill="#999"/><circle cx="37.5" cy="15.5" r="0.50" fill="#a8a8a8"/><circle cx="36.6" cy="6.1" r="0.45" fill="#999"/><circle cx="34.2" cy="3.1" r="0.34" fill="#999"/><circle cx="17.3" cy="11.1" r="0.37" fill="#b8b8b8"/><circle cx="0.1" cy="26.0" r="0.44" fill="#999"/><circle cx="3.2" cy="28.2" r="0.26" fill="#999"/><circle cx="36.3" cy="8.1" r="0.25" fill="#999"/><circle cx="39.4" cy="24.6" r="0.28" fill="#a8a8a8"/><circle cx="3.2" cy="15.0" r="0.40" fill="#8f8f8f"/><circle cx="7.6" cy="17.6" r="0.32" fill="#b8b8b8"/><circle cx="13.7" cy="8.8" r="0.32" fill="#8f8f8f"/><circle cx="11.6" cy="4.3" r="0.35" fill="#b8b8b8"/><circle cx="15.1" cy="19.6" r="0.40" fill="#a8a8a8"/><circle cx="39.6" cy="5.8" r="0.25" fill="#8f8f8f"/><circle cx="30.0" cy="5.5" r="0.37" fill="#8f8f8f"/><circle cx="0.3" cy="31.6" r="0.35" fill="#a8a8a8"/><circle cx="32.5" cy="2.3" r="0.38" fill="#8f8f8f"/><circle cx="28.4" cy="36.2" r="0.44" fill="#b8b8b8"/><circle cx="18.0" cy="4.2" r="0.28" fill="#b8b8b8"/><circle cx="23.3" cy="11.3" r="0.40" fill="#999"/><circle cx="40.5" cy="12.4" r="0.29" fill="#8f8f8f"/><circle cx="26.4" cy="2.3" r="0.30" fill="#999"/><circle cx="4.0" cy="21.0" r="0.45" fill="#b8b8b8"/><circle cx="34.0" cy="5.7" r="0.34" fill="#999"/><circle cx="0.2" cy="23.2" r="0.39" fill="#8f8f8f"/><circle cx="2.5" cy="3.6" r="0.34" fill="#a8a8a8"/><circle cx="15.3" cy="14.0" r="0.45" fill="#999"/><circle cx="32.1" cy="30.4" r="0.32" fill="#8f8f8f"/><circle cx="25.7" cy="15.9" r="0.41" fill="#a8a8a8"/><circle cx="28.8" cy="24.3" r="0.47" fill="#a8a8a8"/><circle cx="24.3" cy="23.2" r="0.48" fill="#b8b8b8"/><circle cx="23.0" cy="0.4" r="0.26" fill="#999"/><circle cx="27.6" cy="26.6" r="0.26" fill="#999"/><circle cx="4.8" cy="29.6" r="0.40" fill="#a8a8a8"/><circle cx="22.0" cy="28.5" r="0.43" fill="#8f8f8f"/><circle cx="1.7" cy="29.3" r="0.33" fill="#8f8f8f"/><circle cx="39.2" cy="27.9" r="0.32" fill="#999"/><circle cx="30.9" cy="10.6" r="0.32" fill="#8f8f8f"/><circle cx="36.0" cy="13.2" r="0.41" fill="#999"/><circle cx="19.1" cy="6.4" r="0.30" fill="#b8b8b8"/><circle cx="12.9" cy="25.1" r="0.36" fill="#a8a8a8"/><circle cx="14.5" cy="3.2" r="0.36" fill="#999"/><circle cx="7.2" cy="5.7" r="0.37" fill="#999"/><circle cx="38.3" cy="14.1" r="0.25" fill="#999"/><circle cx="11.0" cy="20.2" r="0.38" fill="#a8a8a8"/><circle cx="22.8" cy="27.2" r="0.35" fill="#b8b8b8"/><circle cx="34.3" cy="12.0" r="0.28" fill="#b8b8b8"/><circle cx="17.4" cy="34.7" r="0.38" fill="#999"/><circle cx="25.8" cy="26.3" r="0.49" fill="#8f8f8f"/><circle cx="28.3" cy="4.5" r="0.27" fill="#b8b8b8"/><circle cx="34.6" cy="23.9" r="0.26" fill="#999"/><circle cx="7.1" cy="13.7" r="0.44" fill="#8f8f8f"/><circle cx="16.7" cy="13.5" r="0.27" fill="#8f8f8f"/><circle cx="12.0" cy="13.8" r="0.50" fill="#999"/><circle cx="2.6" cy="12.4" r="0.30" fill="#8f8f8f"/><circle cx="32.4" cy="36.8" r="0.38" fill="#8f8f8f"/><circle cx="18.9" cy="2.9" r="0.36" fill="#b8b8b8"/><circle cx="26.7" cy="27.9" r="0.33" fill="#b8b8b8"/><circle cx="38.8" cy="19.1" r="0.28" fill="#a8a8a8"/><circle cx="4.7" cy="22.0" r="0.27" fill="#999"/><circle cx="17.9" cy="11.2" r="0.39" fill="#999"/><circle cx="1.6" cy="36.2" r="0.50" fill="#a8a8a8"/><circle cx="15.7" cy="26.0" r="0.48" fill="#b8b8b8"/><circle cx="36.1" cy="29.2" r="0.27" fill="#b8b8b8"/><circle cx="2.2" cy="38.5" r="0.37" fill="#999"/><circle cx="22.7" cy="32.7" r="0.41" fill="#b8b8b8"/><circle cx="11.6" cy="30.5" r="0.31" fill="#999"/><circle cx="16.6" cy="29.1" r="0.27" fill="#a8a8a8"/><circle cx="18.7" cy="39.0" r="0.44" fill="#999"/><circle cx="40.9" cy="5.5" r="0.29" fill="#8f8f8f"/><circle cx="29.5" cy="10.5" r="0.37" fill="#a8a8a8"/><circle cx="32.9" cy="19.8" r="0.32" fill="#b8b8b8"/><circle cx="25.7" cy="28.6" r="0.39" fill="#8f8f8f"/><circle cx="8.5" cy="1.0" r="0.39" fill="#999"/><circle cx="26.2" cy="20.0" r="0.47" fill="#b8b8b8"/><circle cx="24.8" cy="2.4" r="0.32" fill="#999"/><circle cx="12.1" cy="15.2" r="0.44" fill="#b8b8b8"/><circle cx="26.9" cy="31.0" r="0.43" fill="#8f8f8f"/><circle cx="20.0" cy="6.5" r="0.49" fill="#999"/><circle cx="27.1" cy="17.3" r="0.46" fill="#999"/><circle cx="13.9" cy="30.0" r="0.38" fill="#8f8f8f"/><circle cx="6.5" cy="20.3" r="0.25" fill="#999"/><circle cx="31.6" cy="34.3" r="0.26" fill="#8f8f8f"/><circle cx="19.6" cy="4.9" r="0.30" fill="#a8a8a8"/><circle cx="35.0" cy="9.8" r="0.46" fill="#8f8f8f"/><circle cx="15.8" cy="26.4" r="0.31" fill="#b8b8b8"/><circle cx="37.7" cy="8.4" r="0.31" fill="#8f8f8f"/><circle cx="30.5" cy="20.7" r="0.36" fill="#b8b8b8"/><circle cx="9.1" cy="3.8" r="0.39" fill="#999"/><circle cx="32.2" cy="29.8" r="0.47" fill="#8f8f8f"/><circle cx="6.0" cy="2.3" r="0.25" fill="#a8a8a8"/><circle cx="4.4" cy="18.8" r="0.36" fill="#999"/><circle cx="19.5" cy="21.4" r="0.26" fill="#999"/><circle cx="34.2" cy="25.2" r="0.43" fill="#a8a8a8"/><circle cx="0.8" cy="36.3" r="0.50" fill="#a8a8a8"/><circle cx="39.7" cy="28.6" r="0.30" fill="#b8b8b8"/><circle cx="36.4" cy="7.1" r="0.35" fill="#8f8f8f"/><circle cx="17.6" cy="12.3" r="0.43" fill="#999"/><circle cx="16.0" cy="31.6" r="0.28" fill="#999"/><circle cx="28.3" cy="8.9" r="0.35" fill="#999"/><circle cx="6.0" cy="39.4" r="0.32" fill="#a8a8a8"/><circle cx="28.4" cy="35.3" r="0.42" fill="#8f8f8f"/><circle cx="35.7" cy="37.6" r="0.45" fill="#999"/><circle cx="33.8" cy="36.9" r="0.39" fill="#999"/><circle cx="30.0" cy="8.3" r="0.40" fill="#8f8f8f"/><circle cx="7.9" cy="21.9" r="0.46" fill="#b8b8b8"/><circle cx="26.0" cy="29.1" r="0.36" fill="#a8a8a8"/><circle cx="25.7" cy="7.5" r="0.39" fill="#999"/><circle cx="38.9" cy="30.5" r="0.43" fill="#999"/><circle cx="39.3" cy="34.2" r="0.33" fill="#8f8f8f"/><circle cx="20.0" cy="15.1" r="0.50" fill="#b8b8b8"/><circle cx="31.0" cy="19.6" r="0.45" fill="#999"/><circle cx="36.3" cy="13.5" r="0.49" fill="#999"/><circle cx="7.0" cy="17.5" r="0.36" fill="#8f8f8f"/><circle cx="9.4" cy="12.1" r="0.45" fill="#8f8f8f"/><circle cx="31.8" cy="19.8" r="0.27" fill="#b8b8b8"/><circle cx="3.9" cy="29.9" r="0.35" fill="#b8b8b8"/><circle cx="14.4" cy="31.5" r="0.26" fill="#8f8f8f"/><circle cx="38.0" cy="36.5" r="0.44" fill="#8f8f8f"/><circle cx="1.7" cy="21.0" r="0.37" fill="#999"/><circle cx="12.5" cy="17.4" r="0.40" fill="#8f8f8f"/><circle cx="39.8" cy="21.2" r="0.47" fill="#8f8f8f"/><circle cx="24.2" cy="3.0" r="0.34" fill="#999"/><circle cx="3.9" cy="14.2" r="0.49" fill="#8f8f8f"/><circle cx="40.5" cy="35.7" r="0.34" fill="#8f8f8f"/><circle cx="18.9" cy="4.0" r="0.47" fill="#b8b8b8"/><circle cx="1.5" cy="39.6" r="0.43" fill="#8f8f8f"/><circle cx="24.4" cy="36.5" r="0.33" fill="#999"/><circle cx="33.7" cy="20.6" r="0.34" fill="#8f8f8f"/><circle cx="34.7" cy="23.4" r="0.36" fill="#a8a8a8"/><circle cx="25.2" cy="16.6" r="0.36" fill="#a8a8a8"/><circle cx="2.6" cy="13.2" r="0.26" fill="#b8b8b8"/><circle cx="17.3" cy="38.5" r="0.28" fill="#8f8f8f"/><circle cx="18.3" cy="30.1" r="0.26" fill="#8f8f8f"/><circle cx="24.2" cy="28.7" r="0.26" fill="#8f8f8f"/><circle cx="12.1" cy="12.0" r="0.36" fill="#a8a8a8"/><circle cx="1.4" cy="18.7" r="0.29" fill="#b8b8b8"/><circle cx="21.6" cy="40.9" r="0.39" fill="#999"/><circle cx="34.5" cy="25.4" r="0.46" fill="#a8a8a8"/><circle cx="15.0" cy="40.9" r="0.46" fill="#8f8f8f"/><circle cx="4.6" cy="36.3" r="0.34" fill="#b8b8b8"/><circle cx="38.7" cy="38.5" r="0.35" fill="#999"/><circle cx="40.9" cy="5.3" r="0.44" fill="#999"/><circle cx="14.6" cy="7.4" r="0.50" fill="#8f8f8f"/><circle cx="38.2" cy="16.5" r="0.31" fill="#a8a8a8"/><circle cx="17.9" cy="25.2" r="0.36" fill="#b8b8b8"/><circle cx="15.5" cy="8.0" r="0.30" fill="#999"/><circle cx="10.0" cy="20.5" r="0.40" fill="#8f8f8f"/><circle cx="36.9" cy="31.9" r="0.33" fill="#b8b8b8"/><circle cx="13.8" cy="14.3" r="0.46" fill="#8f8f8f"/><circle cx="1.9" cy="20.5" r="0.32" fill="#a8a8a8"/><circle cx="1.9" cy="9.2" r="0.50" fill="#b8b8b8"/><circle cx="9.1" cy="18.7" r="0.26" fill="#8f8f8f"/><circle cx="31.1" cy="4.5" r="0.42" fill="#8f8f8f"/><circle cx="10.2" cy="2.7" r="0.28" fill="#b8b8b8"/><circle cx="32.1" cy="10.5" r="0.29" fill="#b8b8b8"/><circle cx="12.6" cy="16.0" r="0.31" fill="#999"/><circle cx="34.4" cy="31.5" r="0.37" fill="#a8a8a8"/><circle cx="34.9" cy="29.9" r="0.43" fill="#a8a8a8"/><circle cx="15.7" cy="23.5" r="0.32" fill="#8f8f8f"/><circle cx="28.2" cy="0.1" r="0.29" fill="#8f8f8f"/><circle cx="37.9" cy="13.1" r="0.31" fill="#999"/><circle cx="0.3" cy="28.6" r="0.25" fill="#b8b8b8"/><circle cx="21.4" cy="14.5" r="0.32" fill="#a8a8a8"/><circle cx="35.1" cy="32.4" r="0.32" fill="#a8a8a8"/><circle cx="28.1" cy="24.3" r="0.30" fill="#8f8f8f"/><circle cx="23.1" cy="3.7" r="0.31" fill="#999"/><circle cx="27.2" cy="24.0" r="0.32" fill="#a8a8a8"/><circle cx="8.5" cy="37.8" r="0.28" fill="#999"/><circle cx="9.1" cy="18.0" r="0.33" fill="#b8b8b8"/><circle cx="3.2" cy="7.7" r="0.37" fill="#8f8f8f"/><circle cx="27.7" cy="26.2" r="0.39" fill="#8f8f8f"/><circle cx="12.4" cy="23.0" r="0.40" fill="#b8b8b8"/><circle cx="15.5" cy="34.4" r="0.46" fill="#b8b8b8"/><circle cx="5.5" cy="18.3" r="0.39" fill="#a8a8a8"/><circle cx="30.4" cy="25.0" r="0.46" fill="#999"/><circle cx="7.4" cy="22.4" r="0.30" fill="#a8a8a8"/><circle cx="11.4" cy="33.9" r="0.32" fill="#b8b8b8"/><circle cx="12.8" cy="4.6" r="0.31" fill="#a8a8a8"/><circle cx="38.7" cy="33.1" r="0.34" fill="#b8b8b8"/><circle cx="2.8" cy="16.2" r="0.49" fill="#999"/><circle cx="27.3" cy="29.6" r="0.37" fill="#8f8f8f"/><circle cx="31.6" cy="39.2" r="0.40" fill="#8f8f8f"/><circle cx="8.3" cy="31.6" r="0.31" fill="#a8a8a8"/><circle cx="15.1" cy="25.3" r="0.40" fill="#a8a8a8"/><circle cx="37.9" cy="29.0" r="0.43" fill="#a8a8a8"/><circle cx="23.2" cy="32.2" r="0.42" fill="#b8b8b8"/><circle cx="30.9" cy="9.3" r="0.37" fill="#a8a8a8"/><circle cx="31.4" cy="19.2" r="0.48" fill="#999"/><circle cx="25.9" cy="9.8" r="0.31" fill="#a8a8a8"/><circle cx="39.2" cy="3.5" r="0.44" fill="#999"/><circle cx="22.1" cy="32.4" r="0.46" fill="#a8a8a8"/><circle cx="0.6" cy="28.6" r="0.42" fill="#a8a8a8"/><circle cx="39.3" cy="32.9" r="0.46" fill="#8f8f8f"/><circle cx="34.5" cy="18.1" r="0.30" fill="#8f8f8f"/><circle cx="31.0" cy="13.7" r="0.44" fill="#b8b8b8"/><circle cx="29.3" cy="39.8" r="0.37" fill="#999"/><circle cx="34.8" cy="36.6" r="0.33" fill="#b8b8b8"/><circle cx="0.4" cy="40.6" r="0.30" fill="#b8b8b8"/><circle cx="11.4" cy="12.2" r="0.45" fill="#a8a8a8"/><circle cx="18.2" cy="2.7" r="0.37" fill="#999"/><circle cx="9.6" cy="17.0" r="0.30" fill="#999"/><circle cx="0.0" cy="4.9" r="0.29" fill="#b8b8b8"/><circle cx="11.8" cy="9.6" r="0.48" fill="#a8a8a8"/><circle cx="40.7" cy="4.3" r="0.39" fill="#b8b8b8"/><circle cx="4.8" cy="21.5" r="0.32" fill="#a8a8a8"/><circle cx="27.4" cy="35.5" r="0.28" fill="#b8b8b8"/><circle cx="31.4" cy="22.3" r="0.47" fill="#b8b8b8"/><circle cx="13.4" cy="7.6" r="0.36" fill="#999"/><circle cx="15.7" cy="4.7" r="0.46" fill="#999"/><circle cx="30.2" cy="33.3" r="0.25" fill="#b8b8b8"/><circle cx="23.0" cy="5.7" r="0.43" fill="#a8a8a8"/><circle cx="14.9" cy="39.5" r="0.47" fill="#b8b8b8"/><circle cx="3.4" cy="17.5" r="0.38" fill="#999"/><circle cx="19.7" cy="30.3" r="0.50" fill="#8f8f8f"/><circle cx="12.6" cy="31.9" r="0.31" fill="#999"/><circle cx="4.5" cy="23.9" r="0.41" fill="#999"/><circle cx="21.5" cy="27.6" r="0.42" fill="#b8b8b8"/><circle cx="8.3" cy="29.1" r="0.26" fill="#999"/><circle cx="16.9" cy="39.4" r="0.37" fill="#a8a8a8"/><circle cx="36.8" cy="37.2" r="0.31" fill="#a8a8a8"/><circle cx="34.9" cy="19.8" r="0.27" fill="#8f8f8f"/><circle cx="25.2" cy="39.6" r="0.39" fill="#999"/><circle cx="1.9" cy="36.4" r="0.48" fill="#a8a8a8"/><circle cx="2.1" cy="17.5" r="0.46" fill="#a8a8a8"/><circle cx="8.6" cy="9.6" r="0.27" fill="#999"/><circle cx="7.4" cy="18.3" r="0.47" fill="#999"/><circle cx="23.5" cy="35.4" r="0.36" fill="#a8a8a8"/><circle cx="35.5" cy="19.8" r="0.47" fill="#b8b8b8"/><circle cx="3.0" cy="18.9" r="0.42" fill="#b8b8b8"/><circle cx="34.3" cy="38.3" r="0.43" fill="#8f8f8f"/><circle cx="21.1" cy="27.0" r="0.34" fill="#b8b8b8"/><circle cx="27.9" cy="1.6" r="0.34" fill="#b8b8b8"/><circle cx="32.2" cy="34.8" r="0.35" fill="#999"/><circle cx="15.3" cy="10.9" r="0.35" fill="#a8a8a8"/><circle cx="24.5" cy="30.8" r="0.48" fill="#8f8f8f"/><circle cx="14.0" cy="1.8" r="0.44" fill="#999"/><circle cx="30.9" cy="25.2" r="0.37" fill="#8f8f8f"/><circle cx="17.5" cy="8.0" r="0.30" fill="#8f8f8f"/><circle cx="23.1" cy="15.5" r="0.33" fill="#a8a8a8"/><circle cx="14.3" cy="16.9" r="0.32" fill="#b8b8b8"/><circle cx="20.2" cy="7.0" r="0.47" fill="#8f8f8f"/><circle cx="31.1" cy="13.5" r="0.27" fill="#999"/><circle cx="14.7" cy="12.2" r="0.33" fill="#b8b8b8"/><circle cx="20.6" cy="20.0" r="0.42" fill="#999"/><circle cx="8.1" cy="16.1" r="0.50" fill="#b8b8b8"/><circle cx="38.2" cy="25.5" r="0.40" fill="#a8a8a8"/><circle cx="4.3" cy="31.0" r="0.38" fill="#b8b8b8"/><circle cx="28.7" cy="31.6" r="0.46" fill="#b8b8b8"/><circle cx="38.7" cy="28.2" r="0.47" fill="#8f8f8f"/><circle cx="28.7" cy="9.0" r="0.50" fill="#a8a8a8"/><circle cx="28.3" cy="40.3" r="0.33" fill="#a8a8a8"/><circle cx="25.0" cy="29.1" r="0.28" fill="#999"/><circle cx="11.8" cy="25.3" r="0.43" fill="#b8b8b8"/><circle cx="29.4" cy="12.9" r="0.26" fill="#b8b8b8"/><circle cx="27.0" cy="19.3" r="0.39" fill="#a8a8a8"/><circle cx="10.7" cy="3.1" r="0.28" fill="#8f8f8f"/><circle cx="24.5" cy="40.1" r="0.41" fill="#b8b8b8"/><circle cx="40.5" cy="20.4" r="0.36" fill="#999"/><circle cx="24.7" cy="13.2" r="0.41" fill="#b8b8b8"/><circle cx="5.0" cy="39.2" r="0.38" fill="#a8a8a8"/></pattern>
 <pattern id="hh" width="4" height="1.95" patternUnits="userSpaceOnUse" patternTransform="rotate(28.5)"><rect width="4" height="1.95" fill="#fdfdfd"/><rect y="0" width="4" height="0.6" fill="#777"/></pattern>
 <pattern id="hv" width="13" height="40" patternUnits="userSpaceOnUse"><rect width="13" height="40" fill="#efefef"/><rect x="0.5" width="0.6" height="40" fill="#aaa"/><rect x="3.5" width="0.5" height="25" fill="#bbb"/><rect x="6" y="10" width="0.6" height="30" fill="#999"/><rect x="9.5" width="0.5" height="40" fill="#b0b0b0"/><rect x="11.5" y="5" width="0.5" height="20" fill="#c0c0c0"/></pattern>
 <pattern id="hv2" width="14" height="50" patternUnits="userSpaceOnUse"><rect width="14" height="50" fill="#f1f1f1"/><rect x="1" width="0.5" height="50" fill="#999"/><rect x="3.8" y="8" width="0.5" height="30" fill="#bbb"/><rect x="6.5" width="0.6" height="50" fill="#aaa"/><rect x="9.5" y="15" width="0.5" height="35" fill="#b8b8b8"/><rect x="12" width="0.5" height="28" fill="#a5a5a5"/></pattern>
</defs>

<!-- ===== Figure 1: winged tribar ===== -->
<g stroke="#666" stroke-width="0.8" stroke-linejoin="round" fill="#fff">
 <!-- left loop silhouette -->
 <path d="M121,158.3 L85.4,177.7 L55.8,196.7 C53,198.5 51.5,203 51.5,207.5 V218.3 C52,224 57,231 62.3,233.5 C66,235.5 70,236.8 73.2,236.8 L128.3,211.3 L120.4,160 Z"/>
 <!-- right loop silhouette -->
 <path d="M134.6,158 L156.3,170 L168,176.5 C178,182 187,192 187.1,202.5 C187,210 183,220 175.8,224.2 C172,226.5 168,227.4 163.8,227.4 L90.8,190.8 L120,175 L134.6,166 Z"/>
 <!-- top arch band -->
 <path fill="url(#st)" d="M85.4,177.7 V133.6 A24.6,24.6 0 0 1 134.6,133.6 V200 L120.4,192 V129 A11,11 0 0 0 98.3,129 V170 Z"/>
 <path fill="#fff" d="M91.25,174.6 V133.3 A18.1,18.1 0 0 1 127.5,133.3 V200 L120.4,196 V129 A11,11 0 0 0 98.3,129 V170 Z" stroke="none"/>
 <path fill="url(#st)" stroke="none" d="M91.25,133.3 A18.1,18.1 0 0 1 120.4,120 L116,119 A11,11 0 0 0 98.3,129 Z"/>
 <path fill="url(#st)" stroke="none" d="M120.4,129 A11,11 0 0 0 116,119 L120.4,120 A18.1,18.1 0 0 1 127.5,133.3 V194.2 L120.4,189.2 Z"/>
 <path fill="none" d="M91.25,174.6 V133.3 A18.1,18.1 0 0 1 127.5,133.3 V200 M98.3,170 V129 A11,11 0 0 1 120.4,129 V189.2 M85.4,177.7 V133.6 A24.6,24.6 0 0 1 134.6,133.6 V200.7"/>
 <!-- left loop top stipple band -->
 <path fill="url(#st)" d="M120.4,158.8 L85.4,177.7 L55.8,196.7 C53,198.5 51.8,202 51.6,206 L120.4,167 Z"/>
 <!-- left loop black C band -->
 <path fill="#2a2a2a" stroke="none" d="M120.4,167 L51.6,206 C51.5,208 51.5,210 51.5,212 V218.3 C52,224 57,231 62.3,233.5 C66,235.5 70,236.5 75,236 C80,235.5 88,233 95,230 L128.3,211.3 L121,207 L85,227.5 C80,228.5 73,229 70,228.5 C64,227 60,224 59,221 C58.3,218 58.6,211.5 59.6,209.7 L120.4,174.2 Z"/>
 <!-- left loop bottom stipple band -->
 <path fill="url(#st)" d="M59.3,215 C59.8,219 63,223 70,223.5 C73,223.5 76,223 79,222 L113,204.5 L121,207 L85,227.5 C80,228.5 73,229 70,228.5 C64,227 60,224 59,221 Z"/>
 <!-- right loop outer stipple band -->
 <path fill="url(#st)" stroke="none" d="M134.6,158 L156.3,170 L168,176.5 C178,182 187,192 187.1,202.5 C187,210 183,220 175.8,224.2 C172,226.5 168,227.4 163.8,227.4 L161,224 L100,190 L120,175 L134.6,201 L160.6,213.3 L168.7,216.6 L172,215.5 C177,212 179.5,207 179.5,202.5 C178,191 170,185 164.9,181.9 L134.6,166.7 Z"/>
 <path fill="none" d="M134.6,158 L156.3,170 L168,176.5 C178,182 187,192 187.1,202.5 C187,210 183,220 175.8,224.2 C172,226.5 168,227.4 163.8,227.4"/>
 <!-- right loop black inner band -->
 <path fill="#2a2a2a" stroke="none" d="M134.6,166.7 L164.9,181.9 C170,185 178,191 179.5,202.5 C179.5,207 177,212 172,215.5 L169.3,215.5 C171,214 172.5,210 172.5,205.8 C172.5,199 167,193 161.7,189.5 L134.6,174.2 Z"/>
 <path fill="none" d="M134.6,201 L160.6,213.3 L168.7,216.6 L172,215.5"/>
 <!-- white strip of right leg -->
 <path fill="#fff" stroke="none" d="M127.5,150 H134.6 V200.7 L127.5,197 Z"/>
 <path fill="url(#st)" stroke="none" d="M120.4,150 H127.5 V194.2 L120.4,189.2 Z"/>
 <path fill="none" d="M120.4,150 V189.2 M127.5,150 V200 M134.6,150 V200.7"/>
 <path fill="none" d="M107.5,183.3 L126.7,194.2"/>
 <!-- diagonal 2 black band -->
 <path fill="#2a2a2a" stroke="none" d="M91.5,190.5 L99.7,186.5 L161.7,221.5 L167.6,224.2 C166,226 165,227.4 163.8,227.4 L156.3,226.9 Z"/>
</g>

<!-- ===== Figure 2: triple domino ===== -->
<g stroke="#6a6a6a" stroke-width="0.85" fill="none" stroke-linecap="round" stroke-linejoin="round">
 <path fill="url(#st)" stroke="none" d="M344.9,114.1 L359.5,122.8 V169.3 L345.7,162.7 Z"/>
 <path fill="url(#st)" stroke="none" d="M399.4,130 L441.7,151.7 V169.2 L399.4,145.6 Z"/>
 <path d="M358.3,59.7 L440.7,106 L441.7,169.2 L358.8,217.8 L305,186.7 L303.3,91 L342.3,68 L358.3,59.7"/>
 <path d="M342.3,68 V161.5 M345.2,67.5 V163 M358.3,59.7 V106.5 M360.2,60.5 V106"/>
 <path d="M304,137 L343,115.5 M305,139.5 L342.5,118.5"/>
 <path d="M344.9,114.1 L359.5,106.5 L399.6,129.3 M344.9,114.1 L385.5,137.9 M359.5,122.8 V169.3 M359.5,153.1 L399.6,129.3"/>
 <path d="M399.4,82.6 V145.6 M401.2,83.6 V130.5 M399.4,130 L441.7,151.7 M399.4,145.6 L441.7,169.2"/>
 <path d="M305,186.7 L345.7,162.7 L359.5,169.3 L399.4,145.6 M319,194 L359.5,169.3"/>
 <path d="M399.4,145.6 L439.2,168.3 L398.3,192.5 L361.7,170 M398.3,192.5 L358.5,215.5"/>
 <g fill="#fff" stroke="#666" stroke-width="0.75">
  <ellipse cx="334.6" cy="84" rx="1.8" ry="2.8" transform="rotate(35 334.6 84)"/>
  <ellipse cx="313.3" cy="122.7" rx="1.8" ry="2.8" transform="rotate(35 313.3 122.7)"/>
  <ellipse cx="323.7" cy="150" rx="1.8" ry="2.8" transform="rotate(35 323.7 150)"/>
  <ellipse cx="366.3" cy="72.3" rx="1.8" ry="2.8" transform="rotate(-25 366.3 72.3)"/>
  <ellipse cx="367" cy="101.7" rx="1.8" ry="2.8" transform="rotate(-25 367 101.7)"/>
  <ellipse cx="392" cy="87.3" rx="1.8" ry="2.8" transform="rotate(-25 392 87.3)"/>
  <ellipse cx="391.3" cy="114.7" rx="1.8" ry="2.8" transform="rotate(-25 391.3 114.7)"/>
  <ellipse cx="408" cy="124" rx="1.8" ry="2.8" transform="rotate(-25 408 124)"/>
  <ellipse cx="420.7" cy="117.3" rx="1.8" ry="2.8" transform="rotate(-25 420.7 117.3)"/>
  <ellipse cx="433.3" cy="110" rx="1.8" ry="2.8" transform="rotate(-25 433.3 110)"/>
  <ellipse cx="400" cy="152.5" rx="3.3" ry="1.9"/>
  <ellipse cx="371.7" cy="169.2" rx="3.3" ry="1.9"/>
  <ellipse cx="428.3" cy="169.2" rx="3.3" ry="1.9"/>
  <ellipse cx="400" cy="185.8" rx="3.3" ry="1.9"/>
  <ellipse cx="386.7" cy="193.3" rx="3.3" ry="1.9"/>
  <ellipse cx="358.3" cy="177.4" rx="3.3" ry="1.9"/>
  <ellipse cx="329" cy="194" rx="3.3" ry="1.9"/>
  <ellipse cx="358.3" cy="210.8" rx="3.3" ry="1.9"/>
 </g>
</g>

<!-- ===== Figure 3: cube with pins ===== -->
<defs>
 <radialGradient id="ball" cx="0.6" cy="0.28" r="0.78"><stop offset="0" stop-color="#fff"/><stop offset="0.35" stop-color="#f2f2f2"/><stop offset="0.65" stop-color="#cacaca"/><stop offset="0.88" stop-color="#8c8c8c"/><stop offset="1" stop-color="#6a6a6a"/></radialGradient>
 <linearGradient id="rodv" x1="0" x2="1" y1="0" y2="0">
  <stop offset="0" stop-color="#cfcfcf"/><stop offset="0.35" stop-color="#fafafa"/><stop offset="0.7" stop-color="#e6e6e6"/><stop offset="1" stop-color="#aaa"/>
 </linearGradient>
</defs>
<g stroke="#333" stroke-width="0.8" stroke-linejoin="round">
 <!-- right rod + ball -->
 <path fill="#e4e4e4" d="M653,171 L672,153.5 L677.5,159 L654.2,181 Z"/>
 <circle cx="681.2" cy="150" r="11" fill="url(#ball)"/>
 <!-- left stippled face -->
 <path fill="url(#st2)" d="M561.1,144.7 L608.3,172 V239.4 L602,233.5 L581.3,222 L567.3,199.4 C563,197.5 561.1,196 561.1,194 Z"/>
 <!-- top face -->
 <path fill="#fff" d="M561.1,144.7 L608.3,117.3 L654.2,143.8 L608.3,172 Z"/>
 <!-- dark face -->
 <path fill="#2e2e2e" d="M608.3,172 L654.2,143.8 V206.7 L608.3,239.4 Z"/>
 <!-- channel -->
 <path fill="#f6f6f6" d="M568.1,172 C568.1,167.5 570.5,165.3 574.7,165.3 C579,165.3 581.3,168 581.3,172 V232 L579.5,251 L569,259.8 Z"/>
 <path fill="url(#rodv)" stroke="#666" stroke-width="0.6" d="M569.9,170 C569.9,167 577.8,167 577.8,170 V250 L569.9,257 Z"/>
 <path fill="#fff" stroke="#555" stroke-width="0.6" d="M581.3,216.5 L593,223 L581.3,235 Z"/>
 <!-- diagonal rod -->
 <path fill="url(#rodv)" d="M579.5,242.3 L601.5,219.5 C603.5,217.5 605.5,219 605.3,222 C605.2,224.5 604.5,226.5 603.2,227.4 L577.8,251 Z"/>
 <!-- top rod + ball -->
 <path fill="url(#rodv)" d="M567.3,108 V142.5 C567.3,147 580.7,147 580.7,142.5 V108 Z"/>
 <circle cx="573.8" cy="100.3" r="14.3" fill="url(#ball)"/>
</g>

<!-- ===== Figure 4: truncated tribar ===== -->
<g stroke="#333" stroke-width="0.8" stroke-linejoin="round">
 <path fill="url(#hv)" d="M76,389.2 L89.5,381 V530.3 L76,538 Z"/>
 <path fill="url(#hh)" d="M89.5,381 L160.7,419.2 V508 L145.7,498.2 L89.5,530.3 Z"/>
 <path fill="url(#hv2)" d="M89.5,507.5 L106,498.3 L130.7,484.7 V441.7 L145.7,433.5 V498.2 L89.5,530.3 Z"/>
 <path fill="#fff" d="M105.2,428.2 L130.7,441.7 V484.7 L105.2,497.5 Z"/>
 <path fill="#2e2e2e" d="M105.2,411 L145.7,433.5 L130.7,441.7 L105.2,428.2 Z"/>
 <path fill="#2e2e2e" d="M76,538 L145.7,498.2 L160.7,508 L89.5,546.2 Z"/>
</g>

<!-- ===== Figure 5: crossed rhombus ===== -->
<g stroke="#444" stroke-width="0.95" fill="none" stroke-linejoin="round" stroke-linecap="round">
 <path d="M313.7,344.7 L327,338 L428.3,376.7 L433.7,392.7 L431.7,500.7 L419,504.7 L317.7,465.3 L312.3,448.7 Z"/>
 <path d="M327,338 V437.3 L389,391.3"/>
 <path d="M341.7,358.7 L433.7,392.7 M341.7,358.7 V426.6 M341.7,372.7 L404.3,397.3 L341,443.3 L404.3,468.7"/>
 <path d="M312.3,448.7 L403.7,484.7 M420.3,404.7 L357,449.7 M405.7,415.5 L403.7,484.7 M420.3,404.7 L419,504.7"/>
</g>

<!-- ===== Figure 6: deformed tribar ===== -->
<g stroke="#333" stroke-width="0.8" stroke-linejoin="round">
 <path fill="url(#st3)" stroke="none" d="M583,386.3 L595.7,380.3 V545 L583.5,551 Z"/>
 <path fill="#fff" stroke="none" d="M595.7,380.3 L694.2,430.8 V507.5 L680.5,501.5 L595.7,545 Z"/>
 <path fill="url(#st3)" stroke="none" d="M595.7,490.7 L626.7,474.7 L633.3,474.7 V510 L667.5,495 V443.3 L680,438.3 V501.5 L595.7,545 Z"/>
 <path fill="none" d="M583.5,551 V386.3 L595.7,380.3 L694.2,430.8 V507.5 M595.7,380.3 V490.7 L626.7,474.7 L633.3,474.7 V510 L667.5,495 V443.3 M680,438.3 V501.5"/>
 <path fill="#fff" d="M596.2,505.5 L607.6,511.9 V523.2 L596.2,529.6 Z"/>
 <path fill="#fff" d="M607.6,511.9 L621,505.5 V517.5 L607.6,523.2 Z"/>
 <path fill="#2e2e2e" d="M596.2,505.5 L621,492.7 V505.5 L607.6,511.9 Z"/>
 <path fill="none" d="M633.3,474.7 L646.7,478 V502.7 M644.2,433.3 V468.3 M608,464.7 V484"/>
 <path fill="#2e2e2e" d="M608,450.7 L643.3,468.7 L630.7,475.3 L608,464.7 Z"/>
 <path fill="#fff" d="M608.3,413.7 L618.3,417.7 V441.7 L608.3,437 Z"/>
 <path fill="url(#st3)" d="M618.3,417.7 L629.7,412.3 V447.7 L618.3,441.7 Z"/>
 <path fill="#2e2e2e" d="M608.3,401 L629.7,412.3 L618.3,417.7 L608.3,413.7 Z"/>
 <path fill="#2e2e2e" d="M644.2,419.2 L680,438.3 L667.5,443.3 L644.2,433.3 Z"/>
 <path fill="#2e2e2e" d="M583.3,551 L680.5,501.5 L694.2,507.5 L595.3,557.2 Z"/>
</g>
</svg>

<div class="t" id="t1" style="left:25px;top:37px;font-size:26.67px">Крылатый трибар</div>
<div class="t" id="t2" style="left:504px;top:37px;font-size:26.67px">Кубик со штифтами</div>
<div class="t" id="t3" style="left:277px;top:251px;font-size:26.67px">Тройное домино</div>
<div class="t" id="t4" style="left:28.8px;top:334.5px;font-size:22.4px">Усеченный трибар</div>
<div class="t" id="t5" style="left:273.5px;top:522.5px;font-size:22.4px">Перекрещенный ромб</div>
<div class="t" id="t6" style="left:495px;top:313px;font-size:19px;letter-spacing:0.5px">Усеченный деформированный</div>
<div class="t" id="t7" style="left:600px;top:338px;font-size:19px;letter-spacing:0.5px">трибар</div>
</body></html>
